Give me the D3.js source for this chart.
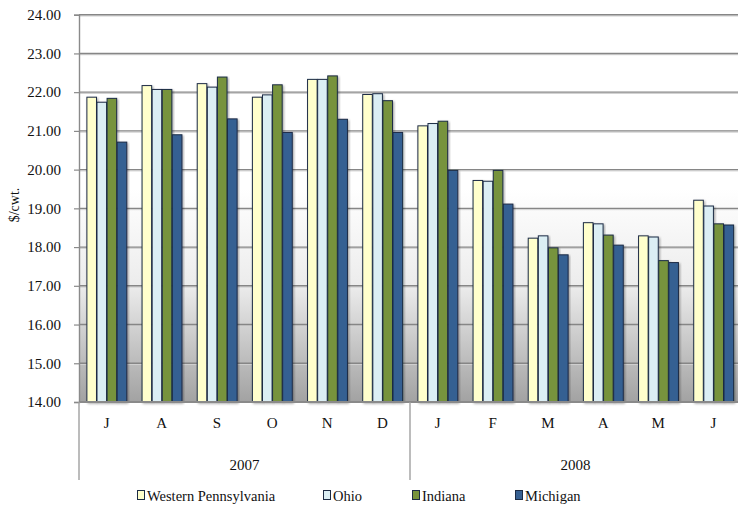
<!DOCTYPE html>
<html>
<head>
<meta charset="utf-8">
<script src="https://cdn.jsdelivr.net/npm/d3@7"></script>
<style>
  html, body { margin: 0; padding: 0; background: #fff; }
  svg { display: block; }
  svg text { font-family: "Liberation Serif", "Times New Roman", serif !important; fill: #111; }
</style>
</head>
<body>
<svg id="chart" width="738" height="511"></svg>
<script>
// Monthly prices, $/cwt., July 2007 – June 2008
const months = ["J", "A", "S", "O", "N", "D", "J", "F", "M", "A", "M", "J"];
const years = [
  { label: "2007", from: 0, to: 6 },
  { label: "2008", from: 6, to: 12 }
];
const seriesNames = ["Western Pennsylvania", "Ohio", "Indiana", "Michigan"];
const westernPennsylvania = [21.87, 22.17, 22.22, 21.87, 22.33, 21.94, 21.13, 19.72, 18.23, 18.63, 18.29, 19.21];
const ohio                = [21.74, 22.07, 22.13, 21.93, 22.33, 21.96, 21.19, 19.70, 18.29, 18.60, 18.26, 19.06];
const indiana             = [21.84, 22.07, 22.39, 22.19, 22.42, 21.78, 21.25, 19.98, 17.98, 18.31, 17.65, 18.60];
const michigan            = [20.71, 20.90, 21.31, 20.96, 21.30, 20.96, 19.98, 19.11, 17.80, 18.05, 17.60, 18.57];
const yTicks = [14, 15, 16, 17, 18, 19, 20, 21, 22, 23, 24];

const seriesValues = [westernPennsylvania, ohio, indiana, michigan];
const colors = ["#ffffcc", "#dbeef4", "#77933c", "#366092"];
const outline = "#1c2b45";

const svg = d3.select("#chart");
const plotLeft = 79, plotRight = 741, plotTop = 14.7, plotBottom = 402;

const y = d3.scaleLinear().domain([14, 24]).range([plotBottom, plotTop]);
const x0 = d3.scaleBand()
  .domain(d3.range(months.length))
  .range([plotLeft, plotRight])
  .paddingInner(0.268)
  .paddingOuter(0.134);
const x1 = d3.scaleBand()
  .domain(d3.range(seriesNames.length))
  .range([0, x0.bandwidth()]);

const defs = svg.append("defs");
const grad = defs.append("linearGradient")
  .attr("id", "plotBg").attr("x1", 0).attr("y1", 0).attr("x2", 0).attr("y2", 1);
grad.append("stop").attr("offset", "0%").attr("stop-color", "#ffffff");
grad.append("stop").attr("offset", "45%").attr("stop-color", "#ffffff");
grad.append("stop").attr("offset", "70%").attr("stop-color", "#ececec");
grad.append("stop").attr("offset", "100%").attr("stop-color", "#a2a2a2");

const shadow = defs.append("filter").attr("id", "barShadow")
  .attr("x", "-20%").attr("y", "-5%").attr("width", "150%").attr("height", "115%");
shadow.append("feDropShadow")
  .attr("dx", 1.2).attr("dy", 1.2).attr("stdDeviation", 0.8)
  .attr("flood-color", "#000").attr("flood-opacity", 0.35);

// plot background
svg.append("rect")
  .attr("x", plotLeft).attr("y", plotTop)
  .attr("width", plotRight - plotLeft).attr("height", plotBottom - plotTop)
  .attr("fill", "url(#plotBg)");

// gridlines
const grid = svg.append("g");
grid.selectAll("line.shade")
  .data(yTicks.filter(d => d > 14))
  .join("line")
  .attr("class", "shade")
  .attr("x1", plotLeft).attr("x2", plotRight)
  .attr("y1", d => y(d) + 1.3).attr("y2", d => y(d) + 1.3)
  .attr("stroke", "#d0d0d0").attr("stroke-width", 1);
grid.selectAll("line.major")
  .data(yTicks.filter(d => d > 14))
  .join("line")
  .attr("class", "major")
  .attr("x1", plotLeft).attr("x2", plotRight)
  .attr("y1", d => y(d)).attr("y2", d => y(d))
  .attr("stroke", "#868686").attr("stroke-width", 1.4);

// bars
const groups = svg.append("g")
  .selectAll("g")
  .data(months.map((m, i) => i))
  .join("g")
  .attr("transform", i => `translate(${x0(i)},0)`);

groups.selectAll("rect")
  .data(i => seriesValues.map((vals, s) => ({ s, v: vals[i] })))
  .join("rect")
  .attr("x", d => x1(d.s) + 0.5)
  .attr("y", d => y(d.v))
  .attr("width", x1.bandwidth() - 0.5)
  .attr("height", d => plotBottom - y(d.v))
  .attr("fill", d => colors[d.s])
  .attr("stroke", outline)
  .attr("stroke-width", 1)
  .attr("filter", "url(#barShadow)");

// y axis
const yAxis = svg.append("g")
  .attr("transform", `translate(${plotLeft},0)`)
  .attr("font-family", null)
  .call(d3.axisLeft(y).tickValues(yTicks).tickFormat(d3.format(".2f")).tickSize(5).tickPadding(13));
yAxis.attr("font-family", null).attr("font-size", 15);
yAxis.select(".domain").attr("stroke", "#8a8a8a").attr("stroke-width", 1.4);
yAxis.selectAll(".tick line").attr("stroke", "#8a8a8a").attr("stroke-width", 1.2);
yAxis.selectAll(".tick text").attr("font-size", 15);

// x axis baseline
svg.append("line")
  .attr("x1", plotLeft).attr("x2", plotRight)
  .attr("y1", plotBottom).attr("y2", plotBottom)
  .attr("stroke", "#8a8a8a").attr("stroke-width", 2.2);

// month labels
svg.append("g").selectAll("text")
  .data(months)
  .join("text")
  .attr("x", (d, i) => x0(i) + x0.bandwidth() / 2)
  .attr("y", 428)
  .attr("text-anchor", "middle")
  .attr("font-size", 15)
  .text(d => d);

// year labels and dividers
const yearG = svg.append("g");
yearG.selectAll("text")
  .data(years)
  .join("text")
  .attr("x", d => plotLeft + x0.step() * (d.from + d.to) / 2)
  .attr("y", 470)
  .attr("text-anchor", "middle")
  .attr("font-size", 15)
  .text(d => d.label);
yearG.selectAll("line")
  .data(years.map(d => d.from))
  .join("line")
  .attr("x1", d => plotLeft + x0.step() * d).attr("x2", d => plotLeft + x0.step() * d)
  .attr("y1", plotBottom).attr("y2", 480)
  .attr("stroke", "#a0a0a0").attr("stroke-width", 1.4);

// y axis title
svg.append("text")
  .attr("transform", "translate(19,205) rotate(-90)")
  .attr("text-anchor", "middle")
  .attr("font-size", 14)
  .text("$/cwt.");

// legend
const legendX = [137, 323, 412, 515];
const legend = svg.append("g");
const items = legend.selectAll("g")
  .data(seriesNames)
  .join("g")
  .attr("transform", (d, i) => `translate(${legendX[i]},0)`);
items.append("rect")
  .attr("x", 0.5).attr("y", 490.5)
  .attr("width", 7).attr("height", 9)
  .attr("fill", (d, i) => colors[i])
  .attr("stroke", outline).attr("stroke-width", 1);
items.append("text")
  .attr("x", 10).attr("y", 501)
  .attr("font-size", 14.5)
  .text(d => d);
</script>
</body>
</html>
